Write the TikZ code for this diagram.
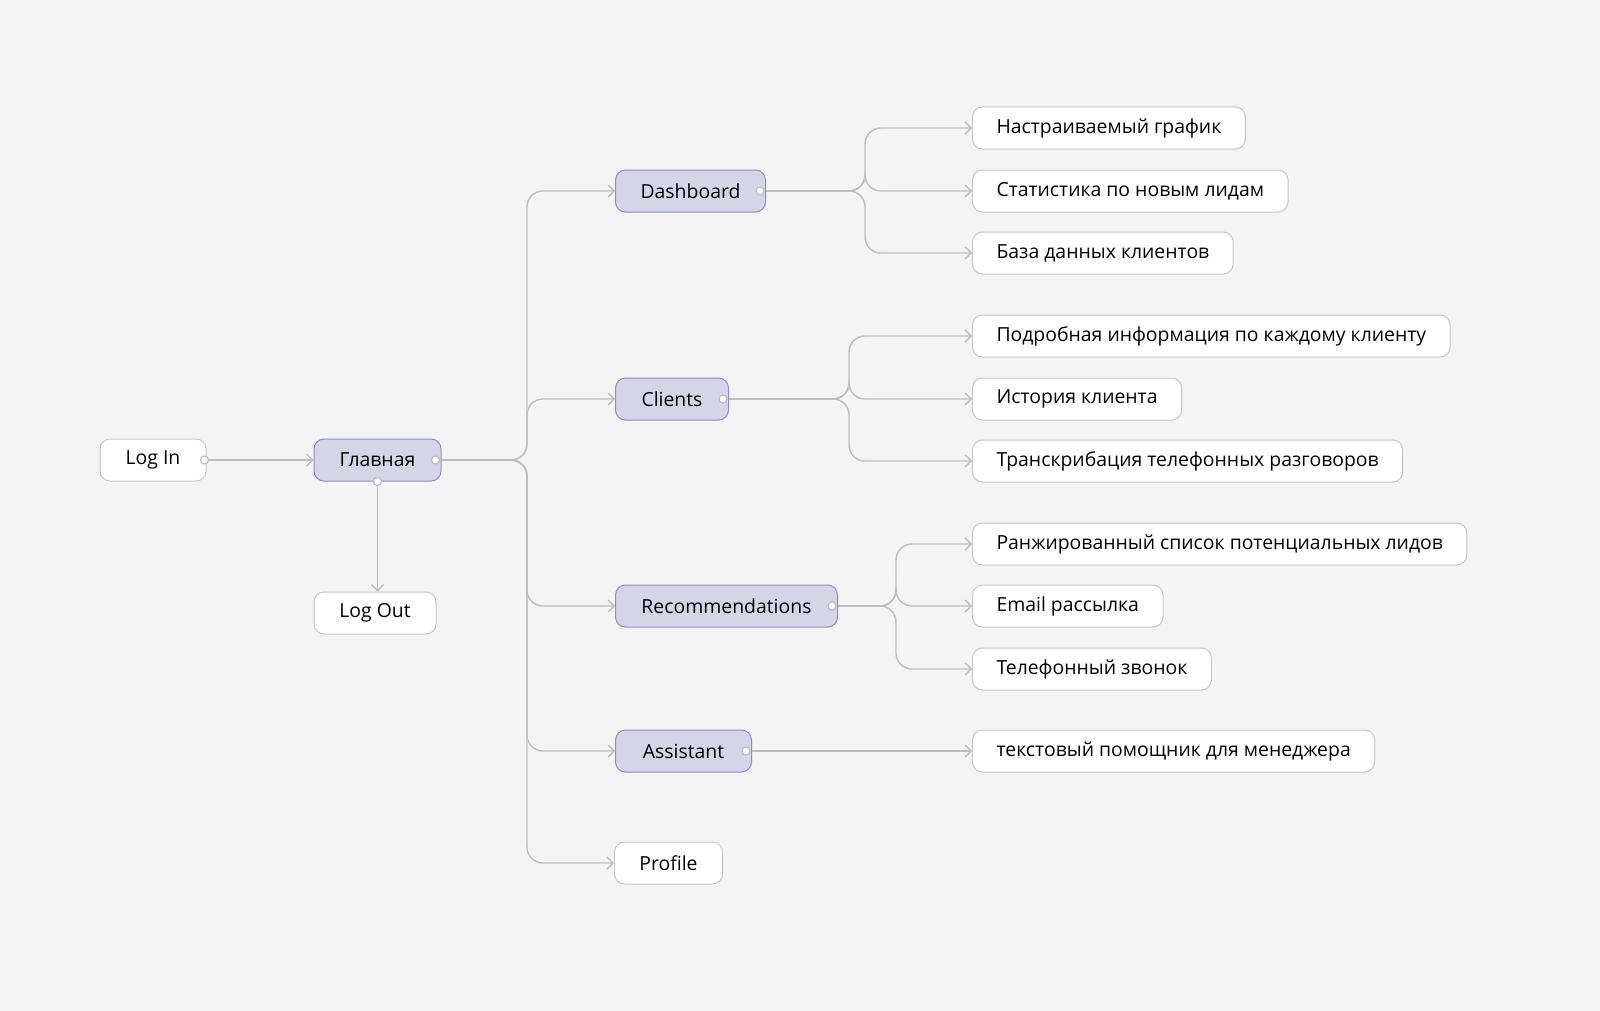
\documentclass[tikz,border=0pt]{standalone}
\usepackage{fontspec}
\setmainfont{Open Sans}
\usetikzlibrary{arrows.meta}
\definecolor{bgcol}{HTML}{F3F4F3}
\definecolor{pagefill}{HTML}{D4D5E6}
\definecolor{pagedraw}{HTML}{8D8CC7}
\definecolor{leafdraw}{HTML}{C6C6C6}
\definecolor{linecol}{HTML}{BDBDBD}
\tikzset{
  box/.style={draw=leafdraw, fill=white, rounded corners=5pt, minimum height=21pt,
    inner xsep=12pt, inner ysep=0pt, font=\fontsize{9.7}{11}\selectfont, line width=0.5pt},
  page/.style={box, draw=pagedraw, fill=pagefill},
  leaf/.style={box, anchor=west},
  conn/.style={draw=linecol, line width=0.7pt, rounded corners=8pt, -{Straight Barb[length=3pt,width=6pt]}},
  port/.style={circle, draw=linecol, fill=white, inner sep=0pt, minimum size=4pt, line width=0.6pt}
}
\begin{document}
\begin{tikzpicture}[x=0.5pt,y=-0.5pt]
  \fill[bgcol] (0,0) rectangle (1600,1011);
  \useasboundingbox (0,0) rectangle (1600,1011);
  % main pages
  \node[box, minimum width=53pt] (login) at (153,460) {Log In};
  \node[page, minimum width=63.5pt] (home) at (377.5,460) {Главная};
  \node[box, minimum width=61pt] (logout) at (375,613) {Log Out};
  \node[page, anchor=west, minimum width=75pt] (dash) at (615,191) {Dashboard};
  \node[page, anchor=west, minimum width=56.5pt] (clients) at (615,399) {Clients};
  \node[page, anchor=west, minimum width=111pt] (recs) at (615,606) {Recommendations};
  \node[page, anchor=west, minimum width=68pt] (assist) at (615,751) {Assistant};
  \node[box, anchor=west, minimum width=54pt] (profile) at (614,863) {Profile};
  % leaves
  \node[leaf] (d1) at (972,128) {Настраиваемый график};
  \node[leaf] (d2) at (972,191) {Статистика по новым лидам};
  \node[leaf] (d3) at (972,253) {База данных клиентов};
  \node[leaf] (c1) at (972,336) {Подробная информация по каждому клиенту};
  \node[leaf] (c2) at (972,399) {История клиента};
  \node[leaf] (c3) at (972,461) {Транскрибация телефонных разговоров};
  \node[leaf] (r1) at (972,544) {Ранжированный список потенциальных лидов};
  \node[leaf] (r2) at (972,606) {Email рассылка};
  \node[leaf] (r3) at (972,669) {Телефонный звонок};
  \node[leaf] (a1) at (972,751) {текстовый помощник для менеджера};
  % branch points
  \coordinate (homeb) at (527,460);
  \coordinate (dashb) at (865,191);
  \coordinate (clientsb) at (849,399);
  \coordinate (recsb) at (896,606);
  % connectors
  \draw[conn] (login.east) -- (home.west);
  \draw[conn] (home.south) -- (home.south |- logout.north);
  \foreach \t in {dash,clients,recs,assist,profile}
    \draw[conn] (home.east) -- (homeb) |- (\t.west);
  \foreach \t in {d1,d2,d3}
    \draw[conn] (dash.east) -- (dashb) |- (\t.west);
  \foreach \t in {c1,c2,c3}
    \draw[conn] (clients.east) -- (clientsb) |- (\t.west);
  \foreach \t in {r1,r2,r3}
    \draw[conn] (recs.east) -- (recsb) |- (\t.west);
  \draw[conn] (assist.east) -- (a1.west);
  % ports
  \node[port] at ([xshift=-1pt]login.east) {};
  \node[port] at (home.south) {};
  \foreach \p in {home,dash,clients,recs,assist}
    \node[port] at ([xshift=-3pt]\p.east) {};
\end{tikzpicture}
\end{document}
